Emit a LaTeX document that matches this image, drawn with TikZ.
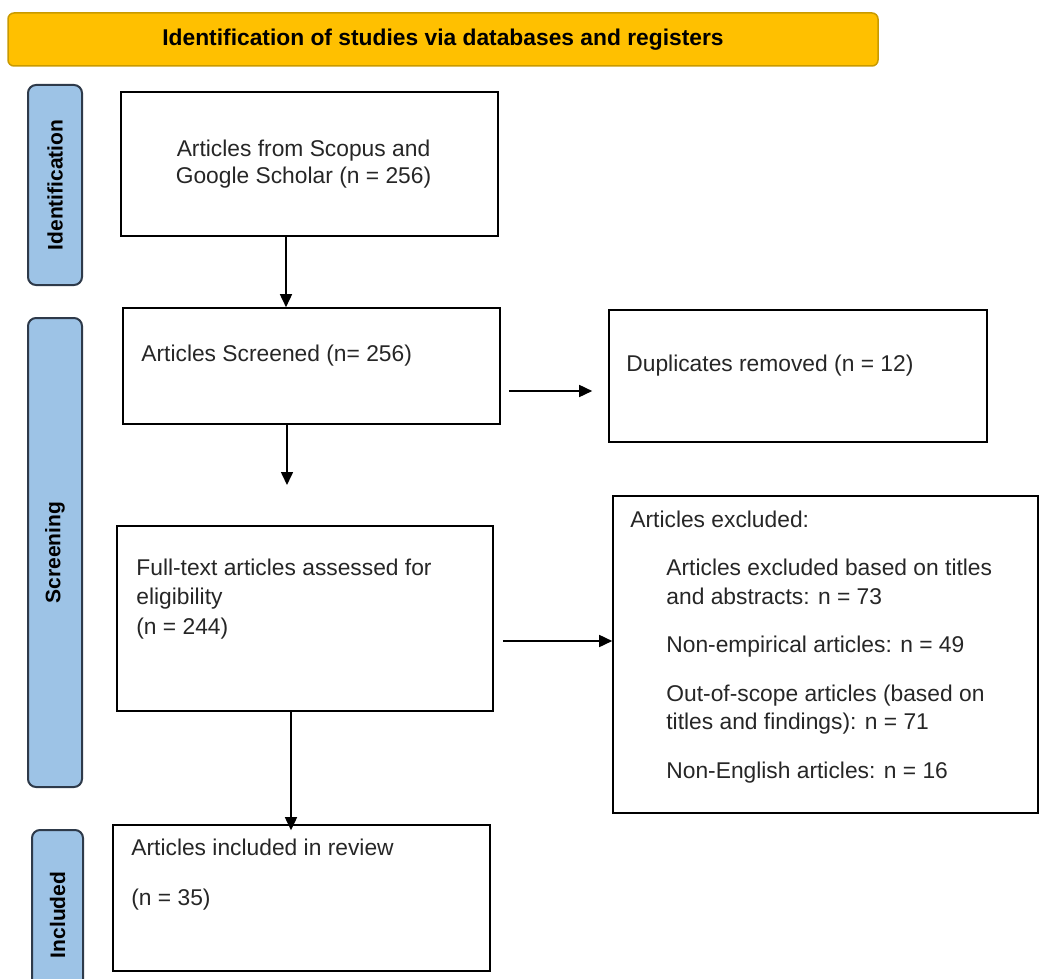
\documentclass[tikz,border=0pt]{standalone}
\usepackage{fontspec}
\setmainfont{Liberation Sans}
\usetikzlibrary{positioning,arrows.meta}

\definecolor{bannerfill}{HTML}{FFC000}
\definecolor{bannerdraw}{HTML}{C99A00}
\definecolor{phasefill}{HTML}{9DC3E6}
\definecolor{phasedraw}{HTML}{2E3A4A}

\tikzset{
  banner/.style={draw=bannerdraw, fill=bannerfill, line width=1.5pt, rounded corners=6pt,
    minimum width=870pt, minimum height=53pt, font=\fontsize{22.8}{24}\selectfont\bfseries},
  phase/.style={draw=phasedraw, fill=phasefill, line width=2pt, rounded corners=8pt,
    rotate=90, inner sep=0pt, font=\fontsize{21}{24}\selectfont\bfseries},
  box/.style={draw, line width=1.6pt, minimum width=377pt, inner sep=0pt},
  txt/.style={inner sep=0pt, anchor=north west, align=left,
    font=\fontsize{22.8}{28.5}\selectfont, text=black!85},
  arr/.style={line width=1.6pt, -{Triangle[length=13pt,width=12pt]}},
}

\begin{document}
\begin{tikzpicture}[x=1pt,y=-1pt]
    \useasboundingbox (0,0) rectangle (1039,979);
    \clip (0,0) rectangle (1039,979);

    % Banner
    \node[banner] (top) at (443,39.5) {Identification of studies via databases and registers};

    % Phases on the left
    \node[phase, minimum width=200pt, minimum height=54pt] (idf) at (55,185) {Identification};
    \node[phase, minimum width=469pt, minimum height=54pt] (scr) at (55,552.5) {Screening};
    \node[phase, minimum width=170pt, minimum height=51pt] (inc) at (57.5,915) {Included};

    % Boxes
    \node[box, minimum height=144pt] (src) at (309.5,164) {};
    \node[box, minimum height=116pt] (scrn) at (311.5,366) {};
    \node[box, minimum width=378pt, minimum height=132pt] (dup) at (798,376) {};
    \node[box, minimum width=376pt, minimum height=185pt] (full) at (305,618.5) {};
    \node[box, minimum width=425pt, minimum height=317pt] (excl) at (825.5,654.5) {};
    \node[box, minimum height=146pt] (incl) at (301.5,898) {};

    % Box texts
    \node[txt, anchor=center, align=center, font=\fontsize{22.8}{27}\selectfont]
        (srctxt) at ([xshift=-6pt]src.center) {Articles from Scopus and\\Google Scholar (n = 256)};
    \node[txt] (scrntxt) at ([shift={(19,37.6)}]scrn.north west) {Articles Screened (n= 256)};
    \node[txt] (duptxt) at ([shift={(18,45.6)}]dup.north west) {Duplicates removed (n = 12)};
    \node[txt] (fulltxt) at ([shift={(20,33.6)}]full.north west)
        {Full-text articles assessed for\\eligibility\\[2pt](n = 244)};
    \node[txt] (exclhead) at ([shift={(18,15.6)}]excl.north west) {Articles excluded:};
    \node[txt] (excllist) at ([shift={(54,63.6)}]excl.north west)
        {Articles excluded based on titles\\and abstracts: n = 73\\[20pt]
         Non-empirical articles: n = 49\\[20pt]
         Out-of-scope articles (based on\\titles and findings): n = 71\\[20pt]
         Non-English articles: n = 16};
    \node[txt] (incltxt) at ([shift={(19,14.6)}]incl.north west)
        {Articles included in review\\[21pt](n = 35)};

    % Arrows
    \coordinate (scrnend) at (287,485);
    \draw[arr] ([xshift=-23.5pt]src.south) -- ([xshift=-25.5pt]scrn.north);
    \draw[arr] ([xshift=-24.5pt]scrn.south) -- (scrnend);
    \draw[arr] ([xshift=-14pt]full.south) -- ([shift={(-10.5,6)}]incl.north);
    \draw[arr] ([shift={(8,25)}]scrn.east) -- ([shift={(-16,15)}]dup.west);
    \draw[arr] ([shift={(9,22.5)}]full.east) -- ([shift={(0,-13.5)}]excl.west);
\end{tikzpicture}
\end{document}
